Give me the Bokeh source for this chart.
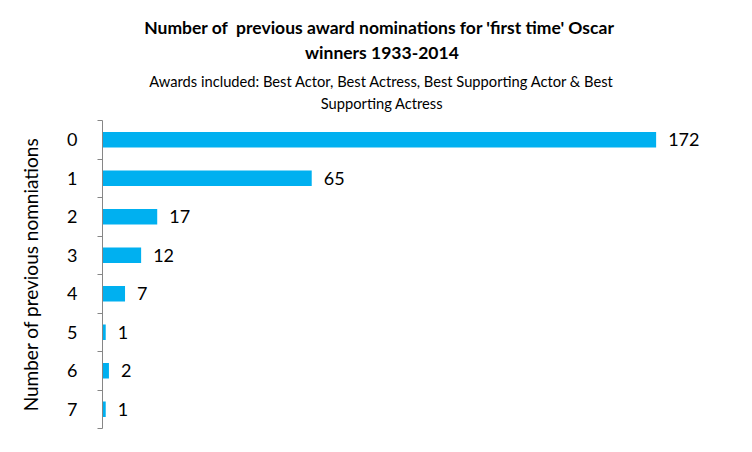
from bokeh.plotting import figure
from bokeh.layouts import column
from bokeh.models import Range1d, FixedTicker, ColumnDataSource
from bokeh.core.properties import value
from bokeh.embed import file_html
from bokeh.resources import INLINE

# ---- data ----
categories = ["0", "1", "2", "3", "4", "5", "6", "7"]
counts = [172, 65, 17, 12, 7, 1, 2, 1]

title_lines = ["Number of\u00a0 previous award nominations for 'first time' Oscar",
               "winners 1933-2014"]
subtitle_lines = ["Awards included: Best Actor, Best Actress, Best Supporting Actor & Best",
                  "Supporting Actress"]
y_title = "Number of previous nomniations"

FONT = "Lato"
BAR = "#00B0F0"
TXT = "#000000"
AX = "#868686"

# ---- title block ----
TW, TH = 752, 112
t = figure(width=TW, height=TH, output_backend="svg", toolbar_location=None,
           title=None, x_range=Range1d(0, TW), y_range=Range1d(TH, 0),
           min_border=0, x_axis_location=None, y_axis_location=None)
t.outline_line_color = None
t.xgrid.visible = False
t.ygrid.visible = False
tsrc = ColumnDataSource(dict(x=[337, 340], y=[27, 52], s=title_lines))
ssrc = ColumnDataSource(dict(x=[340, 340], y=[80, 102], s=subtitle_lines))
t.text(x="x", y="y", text="s", source=tsrc, text_align="center",
       text_baseline="middle", text_font=value(FONT), text_font_size="17.5px",
       text_font_style="bold", text_color=TXT)
t.text(x="x", y="y", text="s", source=ssrc, text_align="center",
       text_baseline="middle", text_font=value(FONT), text_font_size="14.7px",
       text_color=TXT)

# ---- chart ----
pos = [int(c) for c in categories]
src = ColumnDataSource(dict(cat=categories, y=pos, v=counts,
                            lab=[str(v) for v in counts]))

p = figure(width=752, height=338, output_backend="svg", toolbar_location=None,
           title=None, x_range=Range1d(0, 192),
           y_range=Range1d(len(categories) - 0.5, -0.5),
           min_border_left=102, min_border_right=32,
           min_border_top=8, min_border_bottom=22,
           x_axis_location=None)
p.outline_line_color = None
p.xgrid.visible = False
p.ygrid.visible = False

p.hbar(y="y", right="v", left=0, height=0.4, source=src,
       fill_color=BAR, line_color=None)
p.text(x="v", y="y", text="lab", source=src, x_offset=12,
       text_baseline="middle", text_align="left",
       text_font=value(FONT), text_font_size="18px", text_color=TXT)

ax = p.yaxis[0]
ax.ticker = FixedTicker(ticks=pos, minor_ticks=[i - 0.5 for i in range(len(categories) + 1)])
ax.major_label_overrides = {pp: c for pp, c in zip(pos, categories)}
ax.major_tick_out = 0
ax.major_tick_in = 0
ax.minor_tick_out = 5
ax.minor_tick_in = 0
ax.minor_tick_line_color = AX
ax.axis_line_color = AX
ax.major_label_standoff = 20
ax.major_label_text_font = FONT
ax.major_label_text_font_size = "18px"
ax.major_label_text_color = TXT
ax.axis_label = y_title
ax.axis_label_text_font = FONT
ax.axis_label_text_font_size = "19px"
ax.axis_label_text_font_style = "normal"
ax.axis_label_text_color = TXT
ax.axis_label_standoff = 22

layout = column(t, p, spacing=0)
open("out.html", "w").write(file_html(layout, INLINE))
